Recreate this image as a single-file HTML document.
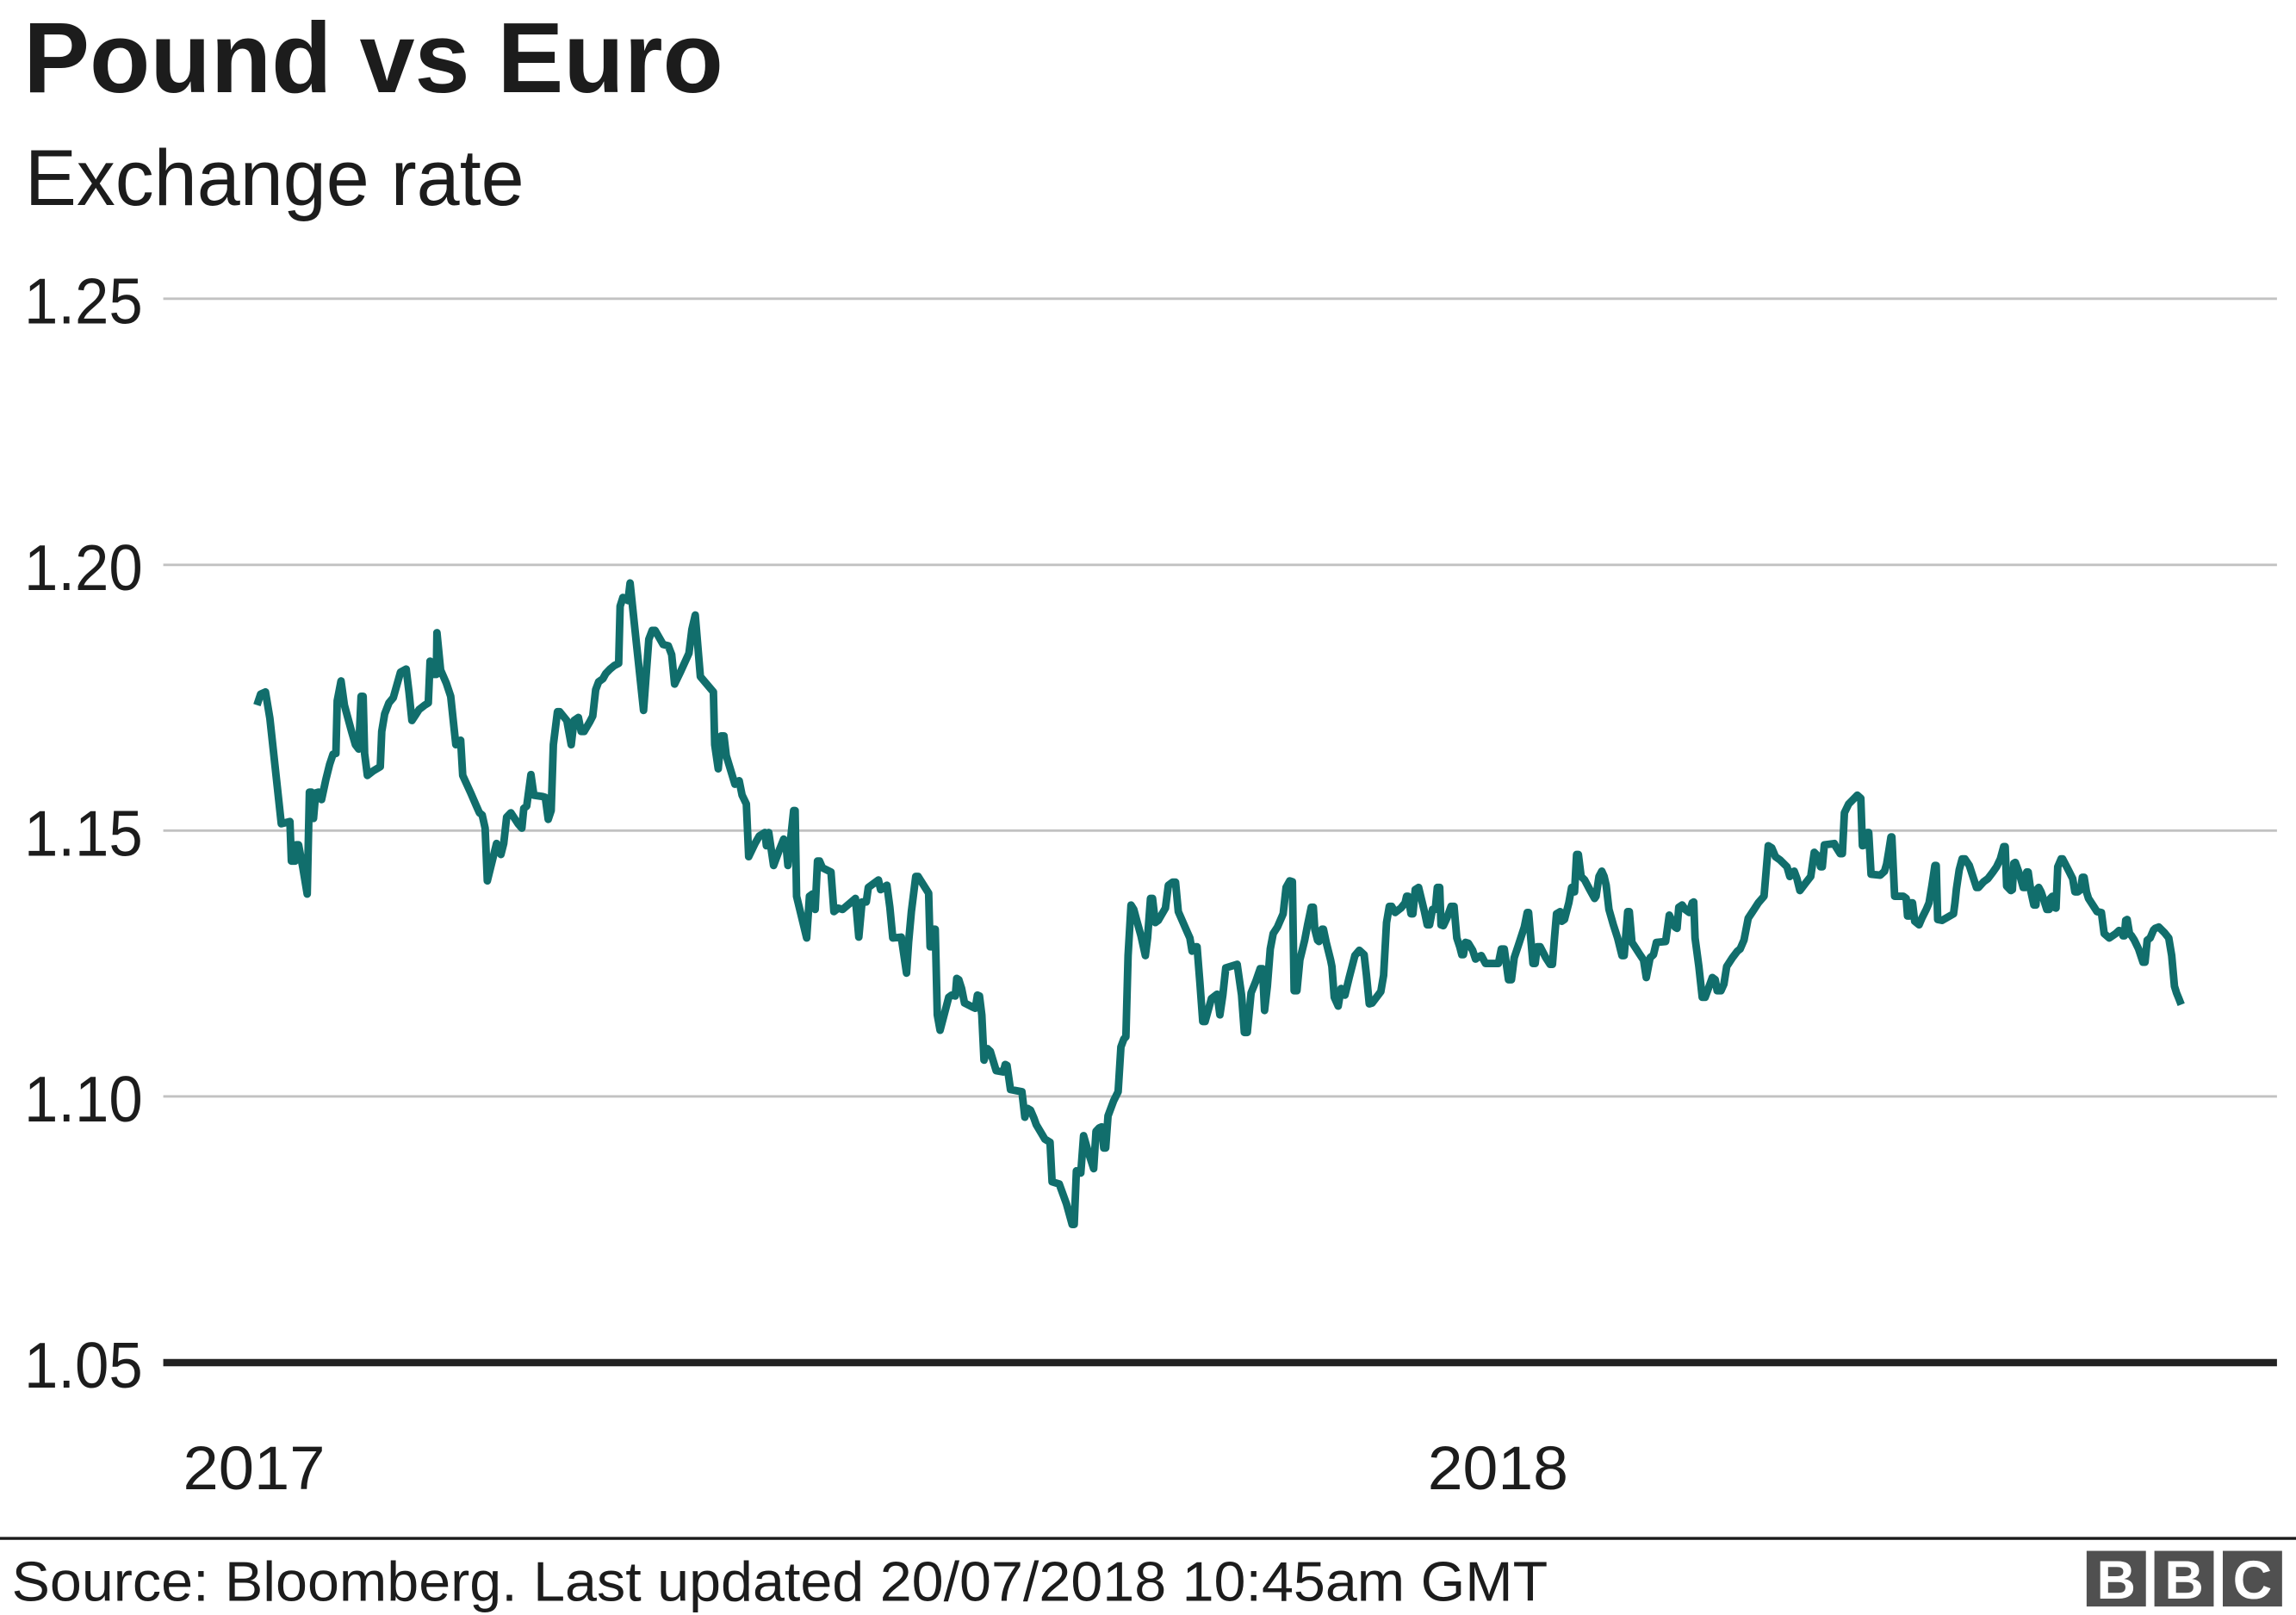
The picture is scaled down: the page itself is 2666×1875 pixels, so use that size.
<!DOCTYPE html>
<html>
<head>
<meta charset="utf-8">
<style>
html,body{margin:0;padding:0;background:#fff;}
svg{display:block;}
</style>
</head>
<body>
<svg xmlns="http://www.w3.org/2000/svg" width="2666" height="1875" viewBox="0 0 1568 1102.8" preserveAspectRatio="none">
<rect x="0" y="0" width="1568" height="1102.8" fill="#ffffff"/>
<g font-family="'Liberation Sans', Arial, Helvetica, sans-serif" fill="#1c1c1c">
<text x="16" y="63" font-size="68" font-weight="bold" textLength="478" lengthAdjust="spacingAndGlyphs">Pound vs Euro</text>
<text x="17" y="140" font-size="54" textLength="341" lengthAdjust="spacingAndGlyphs">Exchange rate</text>
</g>
<g stroke="#c2c2c2" stroke-width="1.7">
<line x1="111.5" y1="204" x2="1555" y2="204"/>
<line x1="111.5" y1="385.7" x2="1555" y2="385.7"/>
<line x1="111.5" y1="567.2" x2="1555" y2="567.2"/>
<line x1="111.5" y1="748.7" x2="1555" y2="748.7"/>
</g>
<line x1="111.5" y1="930.5" x2="1555" y2="930.5" stroke="#222222" stroke-width="5"/>
<g font-family="'Liberation Sans', Arial, Helvetica, sans-serif" fill="#1c1c1c" font-size="44">
<text x="16.5" y="221" textLength="81" lengthAdjust="spacingAndGlyphs">1.25</text>
<text x="16.5" y="402.8" textLength="81" lengthAdjust="spacingAndGlyphs">1.20</text>
<text x="16.5" y="584.3" textLength="81" lengthAdjust="spacingAndGlyphs">1.15</text>
<text x="16.5" y="765.8" textLength="81" lengthAdjust="spacingAndGlyphs">1.10</text>
<text x="16.5" y="947.4" textLength="81" lengthAdjust="spacingAndGlyphs">1.05</text>
</g>
<g font-family="'Liberation Sans', Arial, Helvetica, sans-serif" fill="#1c1c1c" font-size="42">
<text x="125" y="1017" textLength="97" lengthAdjust="spacingAndGlyphs">2017</text>
<text x="975" y="1017" textLength="96" lengthAdjust="spacingAndGlyphs">2018</text>
</g>
<polyline fill="none" stroke="#116e6c" stroke-width="5.2" stroke-linejoin="round" stroke-linecap="butt" points="
175.5,481.5 178.0,474.0 181.3,472.5 184.3,490.5 188.2,526.5 192.1,562.5 198.0,561.0 199.0,588.0 201.5,588.0 202.3,576.9 203.9,576.9 206.8,592.5 209.8,610.5 211.3,540.9 212.7,540.9 214.1,558.9 215.6,541.5 217.6,540.9 219.6,546.0 222.5,532.5 225.1,522.0 227.4,515.1 229.4,514.5 230.3,478.5 232.9,465.0 235.2,481.5 240.1,499.5 242.7,508.5 245.0,511.5 246.6,475.5 248.0,475.5 249.0,514.5 250.9,529.5 254.8,526.5 259.7,523.5 260.7,499.5 262.7,487.5 265.6,480.0 268.6,476.4 273.5,459.0 277.4,456.9 279.3,472.5 281.3,492.0 283.3,489.0 286.2,484.5 290.1,481.5 292.5,480.0 293.7,451.5 295.6,460.5 298.0,460.5 298.4,432.0 300.9,457.5 304.8,466.5 307.8,475.5 309.7,493.5 311.3,508.5 314.6,505.5 316.0,529.5 321.5,541.5 325.4,550.5 327.4,555.0 329.3,556.5 331.3,565.5 332.8,601.5 339.1,576.0 342.1,583.5 344.0,576.0 346.0,558.0 348.9,555.0 353.8,562.5 356.4,565.5 357.7,552.0 359.7,550.5 362.6,528.9 364.6,543.0 370.5,543.9 372.4,544.5 374.4,559.5 376.4,553.5 377.9,508.5 380.7,486.0 382.2,486.0 387.1,492.0 390.1,508.5 392.0,492.0 395.0,489.9 396.9,499.5 398.9,499.5 402.8,492.9 404.8,489.0
406.8,471.0 408.8,465.6 411.7,463.5 413.7,459.9 416.6,456.9 419.5,454.5 422.5,453.0 423.5,414.0 425.4,408.0 428.9,410.1 430.3,398.1 434.8,441.0 439.5,485.1 443.1,436.5 445.4,430.5 447.4,430.5 452.9,440.1 456.4,441.0 458.7,447.0 460.7,467.1 464.6,459.0 470.5,446.1 472.5,429.9 474.8,420.0 478.3,462.0 487.2,472.5 488.1,508.5 490.5,525.0 492.5,502.5 494.4,502.5 496.0,516.0 501.9,535.5 504.8,533.1 506.8,543.0 509.7,549.0 511.3,585.0 515.6,576.0 518.5,570.9 522.4,568.5 523.4,577.5 525.0,568.5 528.3,591.0 532.2,580.5 535.2,573.0 536.7,576.0 538.1,591.0 540.1,571.5 542.0,553.5 543.0,553.5 544.0,612.0 550.9,640.5 552.8,612.0 554.8,610.5 556.7,621.0 558.3,588.0 559.7,588.0 561.6,592.5 567.5,595.5 569.5,622.5 572.4,620.1 575.4,621.0 584.2,613.5 586.5,639.9 588.7,615.9 591.6,615.9 593.0,606.0 599.9,600.9 601.4,607.5 603.8,606.0 605.7,604.5 607.7,619.5 609.7,640.5 615.5,639.9 619.1,664.5
620.5,643.5 622.4,622.5 625.4,598.5 627.0,598.5 634.2,609.9 635.2,646.5 636.7,646.5 637.7,634.5 638.7,634.5 640.1,693.0 642.0,703.5 647.9,681.0 649.9,679.5 652.4,680.1 653.4,668.1 654.8,669.0 656.7,675.0 658.7,684.9 664.6,687.9 666.1,688.5 667.5,679.5 668.9,680.1 670.5,693.0 672.0,723.9 674.4,716.1 676.3,717.9 680.3,731.1 685.2,732.0 686.5,726.9 687.7,727.5 690.1,744.0 697.9,745.5 699.9,762.9 701.8,756.9 703.8,758.1 706.1,763.5 707.7,768.0 713.6,777.9 717.1,780.0 718.5,807.0 723.4,808.5 728.3,822.0 732.2,836.1 733.6,836.1 735.1,799.5 738.1,801.0 740.0,775.5 743.0,786.0 746.9,798.0 748.5,772.5 750.8,770.1 752.4,769.5 753.8,783.9 755.1,783.9 756.7,762.0 760.6,751.5 763.6,745.5 765.5,714.9 767.5,709.5 768.9,708.0 770.4,652.5 772.4,618.0 774.3,621.0 776.3,628.5 779.2,639.0 782.2,652.5 783.7,640.5 785.7,613.5 787.1,613.5 789.0,630.0 791.0,628.5 795.9,620.1 797.9,604.5 800.8,602.4 802.8,602.4 804.7,622.5 810.6,636.0 812.6,640.5 814.1,649.5 816.5,646.5 817.5,646.5 819.4,670.5 821.4,697.5 823.0,697.5 827.3,681.9 831.2,678.9 833.1,693.0 835.1,679.5 837.1,660.9 844.9,658.5 847.9,679.5 849.8,705.0 851.8,705.0
854.4,678.0 857.7,669.9 860.6,661.5 862.2,661.5 863.6,690.0 865.5,673.5 867.5,648.0 869.5,637.5 872.4,633.0 876.3,624.0 878.3,606.0 880.8,601.5 882.6,602.1 883.8,676.5 885.7,676.5 887.7,655.5 891.0,642.0 893.0,631.5 895.5,619.5 896.9,619.5 897.9,634.5 899.8,642.0 900.8,642.9 902.8,634.5 903.8,634.5 905.7,643.5 908.7,655.5 909.6,660.0 911.2,681.0 913.9,687.0 915.9,675.0 918.5,679.5 921.4,667.5 925.3,652.5 928.3,648.9 931.6,651.9 933.2,666.0 935.1,685.5 937.1,684.9 943.0,677.1 944.9,666.0 946.9,630.0 948.8,618.9 950.4,618.9 952.8,623.1 956.7,620.1 959.6,616.5 960.6,612.0 961.6,612.0 963.6,624.0 964.9,624.0 966.5,607.5 968.8,606.0 972.8,622.5 974.7,631.5 976.3,631.5 978.3,621.0 980.2,621.0 981.6,606.0 983.2,606.0 984.1,631.5 985.7,632.1 988.1,627.0 991.0,618.9 993.0,618.9 994.9,640.5 996.9,646.5 998.3,651.9 999.4,651.9 1000.8,643.5 1002.8,644.1 1005.7,648.9 1007.7,654.9 1009.6,653.4 1011.6,652.5 1014.5,657.9 1023.3,657.9 1025.3,648.0 1027.3,648.0 1030.2,669.0 1032.2,669.0 1034.1,654.0 1037.1,645.0 1041.0,633.0 1043.0,623.1 1043.9,623.1 1046.9,657.9 1048.4,657.9 1049.8,646.5 1051.8,646.5 1055.7,654.0 1058.6,658.5 1060.2,658.5 1061.6,640.5 1063.0,624.0 1065.5,622.5 1066.5,629.1 1068.4,627.9 1071.4,616.5 1073.3,606.0 1074.7,606.0
1075.3,609.0 1076.7,583.5 1077.9,583.5 1079.8,598.5 1082.2,600.9 1085.7,607.5 1089.0,613.5 1090.0,612.0 1092.0,598.5 1093.9,594.9 1095.5,598.5 1096.9,604.5 1098.8,621.0 1101.8,631.5 1104.7,640.5 1107.7,652.5 1109.2,652.5 1111.6,622.5 1112.7,622.5 1114.5,643.5 1116.5,646.5 1119.4,651.0 1122.4,655.5 1124.3,667.5 1126.9,654.0 1129.2,651.9 1131.2,643.5 1137.5,642.9 1140.0,624.9 1143.9,633.0 1145.3,633.9 1146.5,619.5 1148.8,618.0 1150.8,621.0 1153.7,623.1 1155.7,616.5 1156.7,615.9 1157.6,640.5 1160.2,660.0 1162.5,681.0 1164.5,681.0 1169.4,667.5 1171.4,669.0 1172.7,676.5 1175.3,676.5 1177.3,672.0 1179.2,660.0 1183.1,654.0 1186.5,649.5 1188.4,648.0 1191.0,642.0 1193.9,627.0 1196.9,622.5 1200.8,616.5 1204.7,612.0 1207.6,577.5 1210.0,579.0 1212.5,585.0 1215.5,587.1 1220.4,591.9 1222.3,598.5 1223.7,595.5 1225.3,594.9 1227.2,600.0 1229.2,608.1 1233.1,603.0 1236.6,598.5 1239.0,582.0 1241.9,585.0 1243.3,591.9 1244.5,591.9 1245.9,576.9 1252.7,576.0 1253.7,578.1 1256.7,582.9 1258.2,582.9 1259.6,555.0 1262.5,549.0 1268.4,543.0 1270.8,545.1 1271.9,577.5 1273.9,576.9 1275.3,568.5 1276.2,568.5 1277.8,597.0 1284.1,597.6 1287.0,594.9 1288.4,590.1 1290.0,580.5 1291.4,571.5 1292.0,571.5 1293.9,612.0 1296.8,612.0
1299.8,612.0 1301.8,613.5 1302.7,625.5 1304.1,625.5 1304.7,616.5 1306.1,616.5 1307.2,625.5 1307.6,629.1 1310.6,631.5 1312.5,627.0 1315.5,621.0 1317.4,616.5 1319.4,604.5 1321.4,591.0 1322.3,591.0 1323.3,627.9 1326.3,628.5 1334.1,624.0 1335.1,616.5 1336.1,606.9 1338.0,594.0 1340.0,586.5 1341.9,586.5 1344.9,591.0 1349.8,606.0 1351.2,606.0 1354.7,602.1 1357.6,600.0 1361.0,595.5 1363.5,591.9 1366.1,586.5 1368.4,578.1 1369.4,578.1 1370.4,605.1 1373.3,608.1 1374.3,607.5 1375.3,589.5 1376.3,588.9 1379.2,597.0 1381.7,606.0 1383.3,606.0 1384.1,595.5 1385.1,595.5 1387.0,609.0 1389.0,618.0 1390.4,618.0 1391.0,607.5 1392.3,606.0 1393.9,609.0 1395.9,615.0 1397.8,621.0 1399.4,621.0 1400.2,613.5 1401.7,612.0 1402.7,619.5 1404.1,620.1 1405.3,591.9 1407.6,586.5 1408.6,586.5 1412.5,594.0 1415.5,600.0 1417.0,609.0 1419.0,609.0 1420.9,607.5 1422.1,599.1 1423.3,599.1 1424.9,609.0 1426.3,613.5 1430.2,619.5 1432.1,622.5 1435.1,623.1 1437.0,637.5 1440.5,640.5 1444.9,637.5 1447.2,635.4 1449.2,636.0 1449.8,639.0 1450.8,639.0 1451.7,628.5 1452.7,627.9 1454.3,637.5 1455.7,639.0 1457.6,642.0 1460.5,648.0 1463.5,657.0 1464.9,657.0 1466.4,642.0 1468.4,640.5 1470.7,635.1 1471.9,633.9 1474.3,633.0 1478.2,636.9 1481.1,640.5 1483.1,652.5 1485.0,673.5 1486.4,678.0 1488.0,681.9 1489.6,686.0"/>
<line x1="0" y1="1050.5" x2="1568" y2="1050.5" stroke="#1a1a1a" stroke-width="2"/>
<text x="8" y="1093" font-family="'Liberation Sans', Arial, Helvetica, sans-serif" font-size="38" fill="#1c1c1c" textLength="1049" lengthAdjust="spacingAndGlyphs">Source: Bloomberg. Last updated 20/07/2018 10:45am GMT</text>
<g fill="#505050">
<rect x="1425" y="1059" width="40.5" height="38"/>
<rect x="1471.3" y="1059" width="40.5" height="38"/>
<rect x="1518" y="1059" width="40.5" height="38"/>
</g>
<g font-family="'Liberation Sans', Arial, Helvetica, sans-serif" font-size="37" font-weight="bold" fill="#ffffff" text-anchor="middle">
<text x="1445.2" y="1091.5">B</text>
<text x="1491.6" y="1091.5">B</text>
<text x="1538.3" y="1091.5">C</text>
</g>
</svg>
</body>
</html>
